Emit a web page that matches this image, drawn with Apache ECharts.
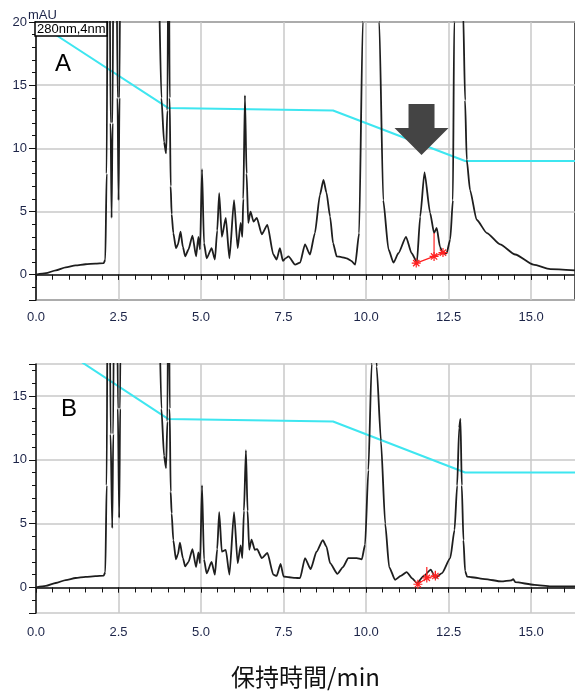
<!DOCTYPE html>
<html><head><meta charset="utf-8">
<script src="https://cdn.jsdelivr.net/npm/echarts@6/dist/echarts.min.js"></script>
<style>html,body{margin:0;padding:0;background:#fff}#c{width:575px;height:695px}</style>
</head><body><div id="c"></div>
<script>
// ---- data (retention time / min, absorbance / mAU) ----
const timeA = [0,0.3,0.6,0.9,1.2,1.5,1.8,2.05,2.1,2.14,2.18,2.22,2.26,2.29,2.32,2.36,2.42,2.47,2.5,2.53,2.58,2.7,3.2,3.6,3.7,3.8,3.88,3.94,3.98,4.02,4.05,4.08,4.11,4.16,4.24,4.3,4.38,4.45,4.52,4.62,4.74,4.85,4.92,4.97,5.03,5.09,5.17,5.32,5.42,5.49,5.55,5.63,5.75,5.86,6.0,6.11,6.2,6.25,6.28,6.33,6.38,6.43,6.5,6.59,6.69,6.84,7.01,7.19,7.29,7.39,7.48,7.56,7.65,7.85,8.0,8.15,8.3,8.45,8.6,8.71,8.8,8.91,9.0,9.11,9.25,9.41,9.55,9.67,9.79,9.9,10.0,10.2,10.35,10.4,10.52,10.68,10.83,10.98,11.21,11.38,11.54,11.64,11.77,11.94,12.06,12.14,12.24,12.32,12.44,12.55,12.63,12.67,12.75,12.85,12.94,13.0,13.05,13.15,13.35,13.66,14.06,14.52,15.07,15.58,16.33];
const absA = [0,0.12,0.35,0.58,0.74,0.83,0.88,0.92,1.2,8,30,30,12,4.5,12,35,35,14,5.9,14,40,80,90,60,25,14,10.5,9.6,13,30,14,7,4.8,3.3,2.1,2.4,3.4,2.2,1.45,2.0,3.1,1.45,3.0,2.0,8.35,2.5,1.3,2.1,1.2,3.5,6.45,3.0,4.5,1.3,5.9,2.1,4.1,3.0,6,14.2,8,4.1,5.0,4.2,4.5,3.2,3.95,1.6,1.2,2.1,1.1,1.3,1.45,0.8,0.95,2.4,1.6,3.3,6.3,7.5,6.5,4.6,2.5,1.45,1.4,1.3,1.1,0.8,3.3,20,60,70,50,20,5.9,2.0,0.95,1.7,3.0,1.7,1.0,4.6,8.1,4.9,3.3,3.7,2.2,1.7,1.7,2.8,5.9,20,60,70,21,13.8,9.1,6.7,4.35,3.3,2.4,1.6,0.8,0.45,0.35];

const timeB = [0,0.3,0.6,0.9,1.2,1.5,1.8,2.05,2.1,2.14,2.18,2.22,2.26,2.31,2.34,2.38,2.43,2.48,2.52,2.55,2.6,2.7,3.2,3.6,3.7,3.8,3.88,3.94,3.98,4.02,4.05,4.08,4.11,4.16,4.24,4.3,4.36,4.45,4.52,4.62,4.74,4.85,4.92,4.97,5.03,5.09,5.17,5.32,5.42,5.49,5.55,5.63,5.75,5.86,6.0,6.11,6.2,6.25,6.3,6.36,6.41,6.46,6.53,6.63,6.7,6.84,7.01,7.19,7.29,7.41,7.5,7.67,7.85,8.0,8.15,8.32,8.5,8.69,8.8,8.91,9.13,9.3,9.46,9.72,9.87,9.97,10.07,10.17,10.25,10.32,10.45,10.58,10.7,10.88,11.05,11.23,11.4,11.54,11.75,11.96,12.1,12.3,12.55,12.68,12.76,12.82,12.86,12.9,12.95,13.0,13.06,13.2,13.6,14.1,14.4,14.46,14.52,15.1,15.6,16.33];
const absB = [0,0.12,0.35,0.58,0.74,0.83,0.88,0.92,1.2,8,30,30,12,4.65,12,35,35,14,5.45,14,40,80,90,60,25,14,10.3,9.35,13,30,14,7.5,5.8,3.7,2.2,2.6,3.5,2.3,1.65,2.0,3.0,1.6,2.75,1.9,8.0,2.2,1.1,2.0,1.0,3.0,5.9,2.8,2.95,1.0,5.9,1.9,3.3,2.3,6,10.75,6,2.95,3.75,2.95,3.0,2.3,2.7,1.0,0.9,1.85,0.86,0.8,0.75,0.73,2.3,1.44,2.8,3.7,3.2,1.9,1.07,1.6,2.3,2.3,2.2,3.35,9.2,17.5,22,17.3,11.5,5.0,1.6,0.6,0.9,1.2,0.7,0.35,0.9,1.4,0.74,1.13,2.3,4.5,8,12.5,13.2,8,3.7,1.3,0.85,0.8,0.66,0.47,0.55,0.66,0.42,0.2,0.08,0.08];

// gradient profile (drawn on the same mAU scale)
const gradT = [0, 4.0, 9.0, 13.0, 16.33];
const gradV = [20, 13.2, 13.0, 9.0, 9.0];

// integration markers (red)
const markA_t = [11.52, 12.06, 12.33];
const markA_v = [0.92, 1.45, 1.75];
const dropA_t = [12.06, 12.06];
const dropA_v = [1.45, 3.3];
const markB_t = [11.57, 11.84, 12.1];
const markB_v = [0.25, 0.75, 0.9];
const dropB1_t = [11.84, 11.84];
const dropB1_v = [0.75, 1.6];
const dropB2_t = [12.1, 12.1];
const dropB2_v = [0.9, 1.3];

// axes
const xMin = 0, xMax = 16.33, xMajor = 2.5, xMinor = 0.5;
const yMinA = -2, yMaxA = 20;
const yMinB = -2, yMaxB = 17.5;
const arrowAt = [11.68, 11.49];

const zip = (a, b) => a.map((v, i) => [v, b[i]]);

const labelFont = "'Liberation Sans',Arial,sans-serif";
const labelColor = '#1c2448';
const gridColor = '#c8c8c8';
const axisColor = '#111';

function xAxes(gi, margin) {
  return [{
    gridIndex: gi, type: 'value', min: xMin, max: xMax, interval: xMajor,
    axisLine: { lineStyle: { color: axisColor, width: 1.5 } },
    axisTick: { length: 5, lineStyle: { color: axisColor } },
    axisLabel: {
      margin: margin, fontFamily: labelFont, fontSize: 13, color: labelColor, showMaxLabel: false,
      formatter: v => (Math.abs(v / xMajor - Math.round(v / xMajor)) < 1e-6 ? v.toFixed(1) : '')
    },
    splitLine: { show: true, showMaxLine: false, lineStyle: { color: gridColor, width: 1.5 } }
  }, {
    gridIndex: gi, type: 'value', min: xMin, max: xMax, interval: xMinor, position: 'bottom', offset: 0,
    axisLine: { show: false }, axisTick: { length: 5, lineStyle: { color: axisColor } },
    axisLabel: { show: false }, splitLine: { show: false }
  }];
}
function yAxes(gi, mn, mx) {
  return [{
    gridIndex: gi, type: 'value', min: mn, max: mx, splitNumber: 4,
    axisLine: { show: true, lineStyle: { color: axisColor, width: 1.5 } },
    axisTick: { show: true, length: 7, lineStyle: { color: axisColor } },
    axisLabel: {
      margin: 9, fontFamily: labelFont, fontSize: 13, color: labelColor,
      formatter: v => (v % 5 === 0 ? String(v) : '')
    },
    splitLine: { show: true, lineStyle: { color: gridColor, width: 1.5 } }
  }, {
    gridIndex: gi, type: 'value', min: mn, max: mx, interval: 1, position: 'left', offset: 0,
    axisLine: { show: false }, axisTick: { show: true, length: 4, lineStyle: { color: axisColor } },
    axisLabel: { show: false }, splitLine: { show: false }
  }];
}

const asterisk = 'path://M0,5L10,5M5,0L5,10M1.5,1.5L8.5,8.5M8.5,1.5L1.5,8.5';
const arrowPath = 'path://M14,0L40,0L40,24L54,24L27,51L0,24L14,24Z';
const red = '#ff2020';

function traceSeries(xi, yi, data) {
  return { type: 'line', xAxisIndex: xi, yAxisIndex: yi, data: data, symbol: 'none',
    smooth: 0.2, smoothMonotone: 'x', lineStyle: { color: '#1e1e1e', width: 1.8 }, z: 3, silent: true };
}
function gradSeries(xi, yi, extra) {
  return Object.assign({ type: 'line', xAxisIndex: xi, yAxisIndex: yi, data: zip(gradT, gradV), symbol: 'none',
    lineStyle: { color: '#3ee6f0', width: 2 }, z: 2, silent: true }, extra || {});
}
function redSeries(xi, yi, data, sym) {
  return { type: 'line', xAxisIndex: xi, yAxisIndex: yi, data: data,
    symbol: sym ? asterisk : 'none', symbolSize: 9, showAllSymbol: true,
    itemStyle: { color: 'rgba(0,0,0,0)', borderColor: red, borderWidth: 1.2 },
    lineStyle: { color: red, width: 1.2 }, z: 4, silent: true };
}

const tStyle = (size, color, fam) => ({ fontFamily: fam || labelFont, fontSize: size, color: color, fontWeight: 'normal' });

const option = {
  animation: false,
  backgroundColor: '#fff',
  title: [
    { text: 'mAU', left: 28, top: 9, padding: 0, textStyle: tStyle(13, labelColor) },
    { text: '280nm,4nm', left: 35, top: 22, padding: [1, 2, 0, 2], borderColor: '#000', borderWidth: 1.5,
      backgroundColor: '#fff', textStyle: tStyle(13, '#000') },
    { text: 'A', left: 55, top: 52, padding: 0, textStyle: tStyle(24, '#000') },
    { text: 'B', left: 61, top: 397, padding: 0, textStyle: tStyle(24, '#000') },
    { text: '保持時間/min', left: 231, top: 665, padding: 0, textStyle: tStyle(24, '#111', "'Noto Sans CJK JP',sans-serif") }
  ],
  grid: [
    { left: 36, right: 0, top: 22, height: 278, show: true, borderColor: '#222', borderWidth: 1.5,
      backgroundColor: 'transparent', containLabel: false, outerBoundsMode: 'none' },
    { left: 36, right: 0, top: 364, height: 249, containLabel: false, outerBoundsMode: 'none' }
  ],
  xAxis: [...xAxes(0, 11), ...xAxes(1, 13)],
  yAxis: [...yAxes(0, yMinA, yMaxA), ...yAxes(1, yMinB, yMaxB)],
  series: [
    gradSeries(0, 0, {
      markPoint: { symbol: arrowPath, symbolSize: [54, 51], silent: true, label: { show: false },
        itemStyle: { color: '#444' }, data: [{ coord: arrowAt }] }
    }),
    traceSeries(0, 0, zip(timeA, absA)),
    redSeries(0, 0, zip(markA_t, markA_v), true),
    redSeries(0, 0, zip(dropA_t, dropA_v), false),
    gradSeries(2, 2),
    traceSeries(2, 2, zip(timeB, absB)),
    redSeries(2, 2, zip(markB_t, markB_v), true),
    redSeries(2, 2, zip(dropB1_t, dropB1_v), false),
    redSeries(2, 2, zip(dropB2_t, dropB2_v), false)
  ]
};
const chart = echarts.init(document.getElementById('c'), null, { renderer: 'canvas' });
chart.setOption(option);
</script></body></html>
